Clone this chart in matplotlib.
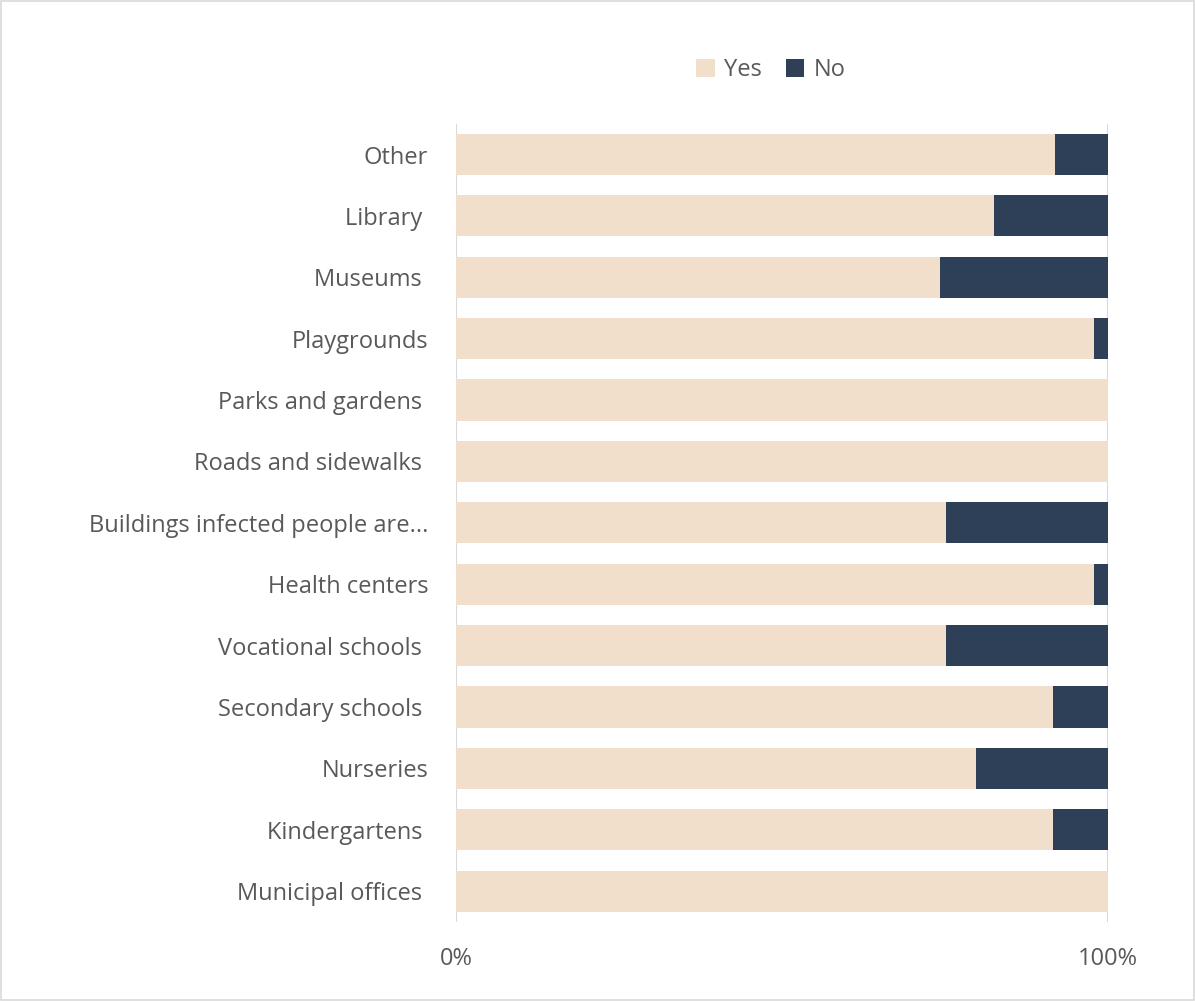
import matplotlib.pyplot as plt
import numpy as np
from matplotlib.patches import Rectangle

plt.rcParams['font.family'] = ['Open Sans', 'DejaVu Sans']

# categories listed top to bottom
categories = ['Other', 'Library ', 'Museums ', 'Playgrounds', 'Parks and gardens ',
              'Roads and sidewalks ', 'Buildings infected people are...', 'Health centers',
              'Vocational schools ', 'Secondary schools ', 'Nurseries', 'Kindergartens ',
              'Municipal offices ']
yes_pct = [91.9, 82.5, 74.2, 97.9, 100, 100, 75.1, 97.9, 75.1, 91.6, 79.7, 91.6, 100]
no_pct = [100 - v for v in yes_pct]

yes_color = '#F2DFCB'
no_color = '#2E4057'
text_color = '#595959'

fig = plt.figure(figsize=(11.95, 10.01), dpi=100)
ax = fig.add_axes([0.3816, 0.0791, 0.5456, 0.7972])

y = np.arange(len(categories))
ax.barh(y, yes_pct, height=0.67, color=yes_color, label='Yes', zorder=2)
ax.barh(y, no_pct, left=yes_pct, height=0.67, color=no_color, label='No', zorder=2)

ax.set_xlim(0, 100)
ax.set_ylim(len(categories) - 0.5, -0.5)
ax.set_yticks(y)
ax.set_yticklabels(categories, fontsize=17, color=text_color)
ax.set_xticks([0, 100])
ax.set_xticklabels(['0%', '100%'], fontsize=17, color=text_color)
ax.tick_params(axis='both', length=0)
ax.tick_params(axis='y', pad=20)
ax.tick_params(axis='x', pad=18)

for s in ax.spines.values():
    s.set_visible(False)
ax.grid(axis='x', color='#D9D9D9', linewidth=1.5, zorder=0)

ax.legend(loc='center', bbox_to_anchor=(0.645, 0.930), bbox_transform=fig.transFigure,
          ncol=2, frameon=False, fontsize=17, handlelength=0.8, handleheight=0.8,
          handletextpad=0.4, columnspacing=1.0, labelcolor=text_color)

# chart border
fig.patches.append(Rectangle((0.001, 0.001), 0.998, 0.998, transform=fig.transFigure,
                             fill=False, edgecolor='#D9D9D9', linewidth=1.2))

fig.savefig('out.png', dpi=100)
